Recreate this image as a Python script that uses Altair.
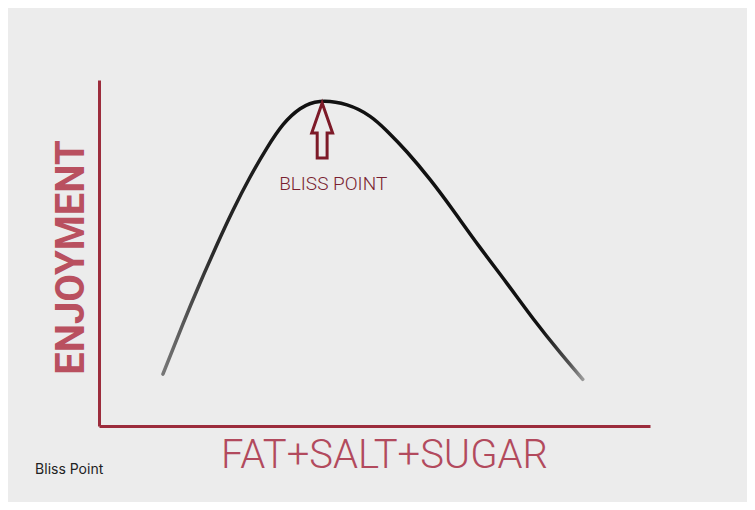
import altair as alt
import pandas as pd

# Curve (x: amount of fat+salt+sugar, y: enjoyment), 0-10 units
curve_x = [1.16, 1.52, 1.83, 2.14, 2.43, 2.74, 3.05, 3.34, 3.65, 4.01, 4.50,
           4.92, 5.23, 5.59, 6.01, 6.42, 6.91, 7.40, 7.88, 8.37, 8.78]
curve_y = [1.50, 2.94, 4.12, 5.24, 6.23, 7.19, 8.04, 8.71, 9.17, 9.38, 9.28,
           8.95, 8.52, 7.92, 7.12, 6.25, 5.17, 4.13, 3.10, 2.12, 1.35]

# Annotations (data units)
arrow_x = [4.05]
arrow_y = [8.54]
label_text = ["BLISS POINT"]
label_x = [4.25]
label_y = [6.99]
caption_text = ["Bliss Point"]
caption_x = [-1.16]
caption_y = [-1.27]

x_title = "FAT+SALT+SUGAR"
y_title = "ENJOYMENT"

curve = pd.DataFrame({"x": curve_x, "y": curve_y})
arrow = pd.DataFrame({"x": arrow_x, "y": arrow_y})
label = pd.DataFrame({"x": label_x, "y": label_y, "t": label_text})
caption = pd.DataFrame({"x": caption_x, "y": caption_y, "t": caption_text})

xs = alt.Scale(domain=[0, 10], nice=False, zero=False)
ys = alt.Scale(domain=[0, 10], nice=False, zero=False)

axis_red = "#9c2c3c"

x_axis = alt.Axis(title=x_title, labels=False, ticks=False, grid=False,
                  domainColor=axis_red, domainWidth=3,
                  titleFont="Roboto", titleFontWeight=300, titleFontSize=40,
                  titleColor="#b24a5d", titlePadding=9, titleX=285)
y_axis = alt.Axis(title=y_title, labels=False, ticks=False, grid=False,
                  domainColor=axis_red, domainWidth=3,
                  titleFont="Roboto", titleFontWeight=700, titleFontSize=40,
                  titleColor="#b9505f", titlePadding=8, titleY=177)

grad = alt.Gradient(
    gradient="linear", x1=0, x2=1, y1=0, y2=0,
    stops=[alt.GradientStop(offset=0, color="#777777"),
           alt.GradientStop(offset=0.12, color="#2a2a2a"),
           alt.GradientStop(offset=0.3, color="#111111"),
           alt.GradientStop(offset=0.9, color="#111111"),
           alt.GradientStop(offset=0.97, color="#555555"),
           alt.GradientStop(offset=1, color="#999999")])

line = alt.Chart(curve).mark_line(
    interpolate="natural", strokeWidth=3.5, color=grad, strokeCap="round"
).encode(
    x=alt.X("x:Q", scale=xs, axis=x_axis),
    y=alt.Y("y:Q", scale=ys, axis=y_axis),
)

arrow_path = ("M0,-1 L0.38,0.09 L0.18,0.09 L0.18,1 L-0.18,1 "
              "L-0.18,0.09 L-0.38,0.09 Z")
arr = alt.Chart(arrow).mark_point(
    shape=arrow_path, size=3025, filled=False, stroke="#7d1a28",
    strokeWidth=3, opacity=1, strokeJoin="miter"
).encode(x=alt.X("x:Q", scale=xs), y=alt.Y("y:Q", scale=ys))

lab = alt.Chart(label).mark_text(
    font="Roboto", fontWeight=300, fontSize=19, color="#7a1f30",
    align="center", baseline="middle"
).encode(x=alt.X("x:Q", scale=xs), y=alt.Y("y:Q", scale=ys), text="t:N")

cap = alt.Chart(caption).mark_text(
    font="Inter", fontSize=14, color="#222222",
    align="left", baseline="middle"
).encode(x=alt.X("x:Q", scale=xs), y=alt.Y("y:Q", scale=ys), text="t:N")

chart = alt.layer(line, arr, lab, cap).properties(
    width=551, height=346,
    autosize=alt.AutoSizeParams(type="none"),
    padding={"left": 91, "top": 72, "right": 97, "bottom": 76},
    background="#ececec",
).configure_view(stroke=None)

chart.save("out.html", embed_options={"renderer": "svg", "actions": False})
